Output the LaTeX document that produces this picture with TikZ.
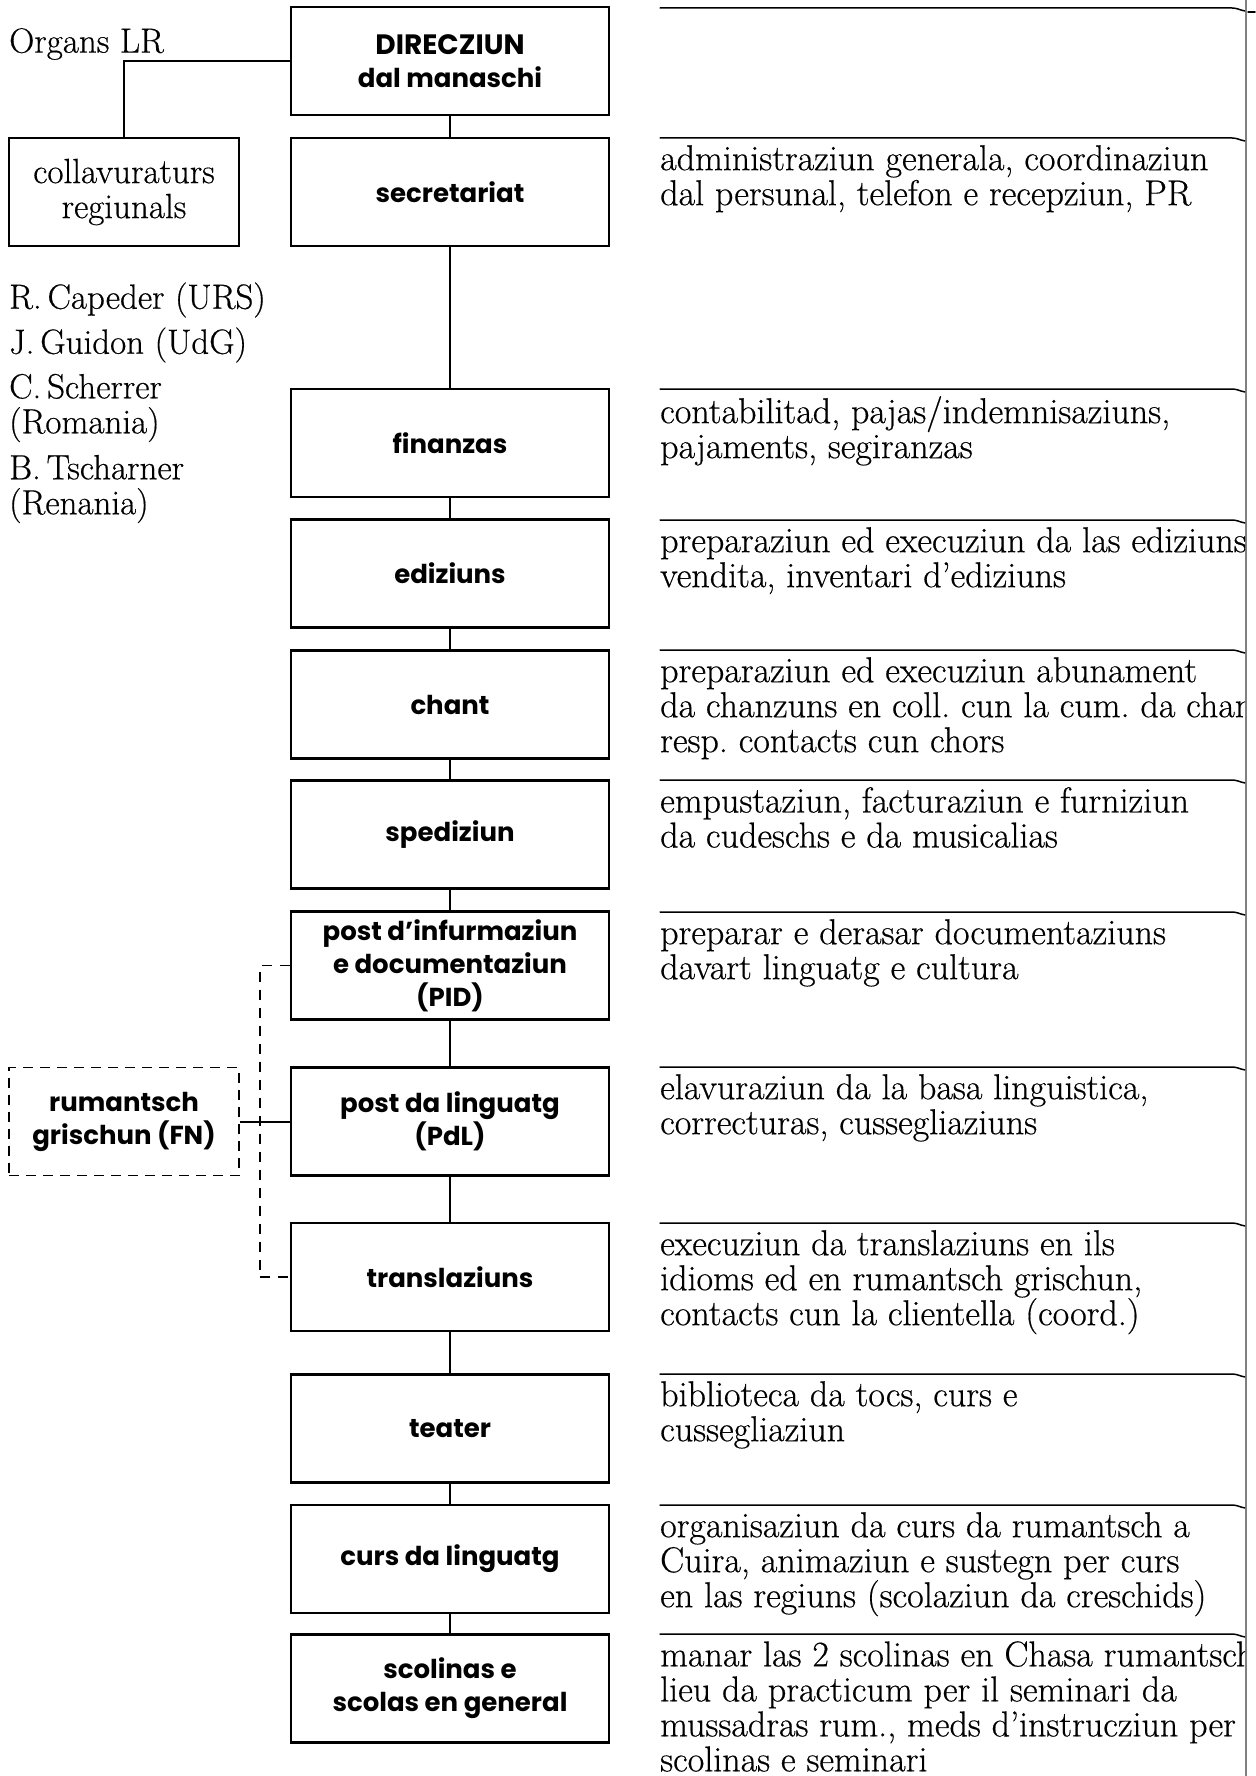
\documentclass[tikz,border=0pt]{standalone}
\usepackage{fontspec}
\setmainfont{Latin Modern Roman}[FakeBold=0.5]
\newfontfamily\boxfont{Poppins}
\usetikzlibrary{positioning}
\tikzset{
  unitbox/.style={
    draw, line width=2.4pt, inner sep=0pt,
    minimum width=318pt, minimum height=108pt, align=center,
    font=\boxfont\bfseries\fontsize{26}{33}\selectfont
  },
  sidebox/.style={
    draw, line width=2.4pt, inner sep=0pt,
    minimum width=230pt, minimum height=108pt, align=center,
    font=\fontsize{35}{35}\selectfont
  },
  fnbox/.style={
    sidebox, line width=1.6pt, dash pattern=on 10pt off 7pt,
    font=\boxfont\bfseries\fontsize{26}{33}\selectfont
  },
  plaintext/.style={inner sep=0pt, align=left, font=\fontsize{35}{35}\selectfont},
  desc/.style={plaintext, anchor=north west, font=\fontsize{36}{35}\selectfont},
  link/.style={line width=2pt},
  rulerline/.style={line width=1.5pt, line cap=round},
}
% \duty{name}{top of row}{text}
\newcommand{\duty}[3]{%
  \draw[rulerline] (660,#2) -- (1232,#2) to[out=0,in=170] (1245,#2+3);
  \draw[rulerline] (1248,#2+4) -- (1255,#2+4);
  \node[desc] (#1) at (660,#2+7) {#3};
}

\begin{document}
\begin{tikzpicture}[x=1pt,y=-1pt]
  \useasboundingbox (0,0) rectangle (1255,1776);

  % main column
  \node[unitbox] (dir)   at (450,61)     {{\fontsize{28}{36}\selectfont DIRECZIUN}\\dal manaschi};
  \node[unitbox] (sec)   at (450,192)    {secretariat};
  \node[unitbox] (fin)   at (450,443)    {finanzas};
  \node[unitbox] (edi)   at (450,573.5)  {ediziuns};
  \node[unitbox] (chant) at (450,704.5)  {chant};
  \node[unitbox] (sped)  at (450,834.5)  {spediziun};
  \node[unitbox] (pid)   at (450,965.5)  {post d’infurmaziun\\e documentaziun\\(PID)};
  \node[unitbox] (pdl)   at (450,1121.5) {post da linguatg\\(PdL)};
  \node[unitbox] (trans) at (450,1277)   {translaziuns};
  \node[unitbox] (teat)  at (450,1428.5) {teater};
  \node[unitbox] (curs)  at (450,1559)   {curs da linguatg};
  \node[unitbox] (scol)  at (450,1688.5) {scolinas e\\scolas en general};

  \foreach \a/\b in {dir/sec,sec/fin,fin/edi,edi/chant,chant/sped,sped/pid,
                     pid/pdl,pdl/trans,trans/teat,teat/curs,curs/scol}
    \draw[link] (\a.south) -- (\b.north);

  % left side
  \node[plaintext, anchor=west] (organs) at (9,44) {Organs LR};
  \node[sidebox] (collav) at (124,192) {collavuraturs\\regiunals};
  \draw[link] (dir.west) -| (collav.north);

  \node[plaintext, anchor=west] (capeder)   at (9,300)   {R.\,Capeder (URS)};
  \node[plaintext, anchor=west] (guidon)    at (9,345)   {J.\,Guidon (UdG)};
  \node[plaintext, anchor=west] (scherrer)  at (9,408)   {C.\,Scherrer\\(Romania)};
  \node[plaintext, anchor=west] (tscharner) at (9,489)   {B.\,Tscharner\\(Renania)};

  \node[fnbox] (fn) at (124,1121.5) {rumantsch\\grischun (FN)};
  \draw[link] (fn.east) -- (pdl.west);
  \draw[line width=1.4pt, dash pattern=on 10pt off 8pt]
    (pid.west) -- ++(-30,0) |- (trans.west);

  % right side
  \draw[gray, line width=1.2pt] (1246,0) -- (1246,1776);
  \begin{scope}
    \clip (0,0) rectangle (1245,1776);
    \draw[rulerline] (660,8) -- (1232,8) to[out=0,in=170] (1245,11);
    \duty{dsec}{138}{administraziun generala, coordinaziun\\dal persunal, telefon e recepziun, PR}
    \duty{dfin}{389}{contabilitad, pajas/indemnisaziuns,\\pajaments, segiranzas}
    \duty{dedi}{520}{preparaziun ed execuziun da las ediziuns\\vendita, inventari d’ediziuns}
    \duty{dchant}{650}{preparaziun ed execuziun abunament\\da chanzuns en coll.~cun la cum.~da chan\\resp.~contacts cun chors}
    \duty{dsped}{780}{empustaziun, facturaziun e furniziun\\da cudeschs e da musicalias}
    \duty{dpid}{912}{preparar e derasar documentaziuns\\davart linguatg e cultura}
    \duty{dpdl}{1067}{elavuraziun da la basa linguistica,\\correcturas, cussegliaziuns}
    \duty{dtrans}{1223}{execuziun da translaziuns en ils\\idioms ed en rumantsch grischun,\\contacts cun la clientella (coord.)}
    \duty{dteat}{1374}{biblioteca da tocs, curs e\\cussegliaziun}
    \duty{dcurs}{1505}{organisaziun da curs da rumantsch a\\Cuira, animaziun e sustegn per curs\\en las regiuns (scolaziun da creschids)}
    \duty{dscol}{1634}{manar las 2 scolinas en Chasa rumantsch\\lieu da practicum per il seminari da\\mussadras rum., meds d’instrucziun per\\scolinas e seminari}
  \end{scope}
  \draw[rulerline] (1248,12) -- (1255,12);
\end{tikzpicture}
\end{document}
